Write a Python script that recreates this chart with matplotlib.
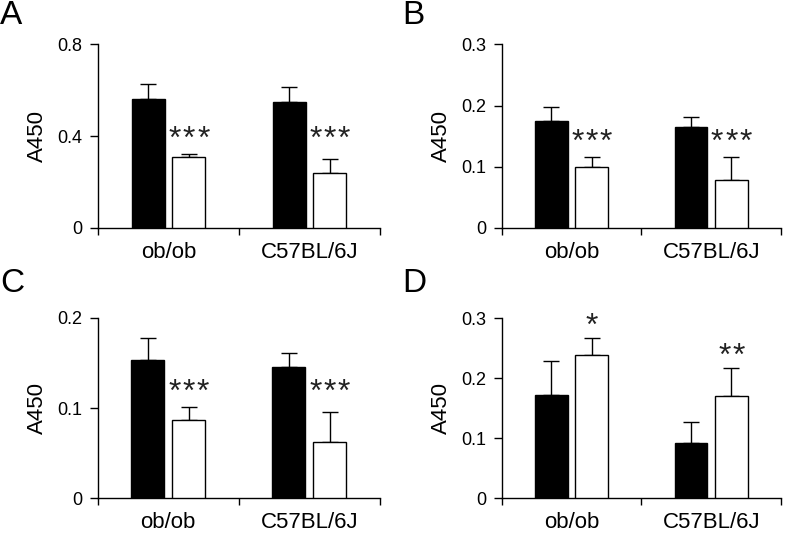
import matplotlib
matplotlib.use("Agg")
import matplotlib.pyplot as plt
import numpy as np

plt.rcParams['font.family'] = ['Liberation Sans', 'DejaVu Sans']

groups = ['ob/ob', 'C57BL/6J']

A_black = [0.561, 0.548]
A_black_err = [0.065, 0.065]
A_white = [0.310, 0.237]
A_white_err = [0.013, 0.063]
A_sig = ['***', '***']
A_ticks = [0, 0.4, 0.8]
A_ticklabels = ['0', '0.4', '0.8']

B_black = [0.174, 0.165]
B_black_err = [0.024, 0.016]
B_white = [0.099, 0.078]
B_white_err = [0.016, 0.038]
B_sig = ['***', '***']
B_ticks = [0, 0.1, 0.2, 0.3]
B_ticklabels = ['0', '0.1', '0.2', '0.3']

C_black = [0.153, 0.145]
C_black_err = [0.025, 0.016]
C_white = [0.087, 0.063]
C_white_err = [0.014, 0.033]
C_sig = ['***', '***']
C_ticks = [0, 0.1, 0.2]
C_ticklabels = ['0', '0.1', '0.2']

D_black = [0.172, 0.093]
D_black_err = [0.057, 0.035]
D_white = [0.239, 0.171]
D_white_err = [0.028, 0.046]
D_sig = ['*', '**']
D_ticks = [0, 0.1, 0.2, 0.3]
D_ticklabels = ['0', '0.1', '0.2', '0.3']

panels = [
    ('A', A_black, A_black_err, A_white, A_white_err, A_sig, A_ticks, A_ticklabels, True),
    ('B', B_black, B_black_err, B_white, B_white_err, B_sig, B_ticks, B_ticklabels, True),
    ('C', C_black, C_black_err, C_white, C_white_err, C_sig, C_ticks, C_ticklabels, True),
    ('D', D_black, D_black_err, D_white, D_white_err, D_sig, D_ticks, D_ticklabels, False),
]

fig = plt.figure(figsize=(7.87, 5.36), dpi=100)
rects = [
    [0.1245, 0.5752, 0.3583, 0.3418],
    [0.6375, 0.5752, 0.3549, 0.3418],
    [0.1241, 0.0700, 0.3587, 0.3373],
    [0.6375, 0.0700, 0.3549, 0.3362],
]
letter_pos = [(0.0, 1.0), (0.511, 1.0), (0.0, 0.5), (0.511, 0.5)]

off = 0.145
w = 0.234
lw = 1.0
star_step = 10.3  # points between asterisks
for (letter, blk, blk_e, wht, wht_e, sig, ticks, tlabels, align), rect, lp in zip(panels, rects, letter_pos):
    ax = fig.add_axes(rect)
    x = np.arange(len(groups)) + 0.5
    ax.bar(x - off, blk, w, color='black', edgecolor='black', linewidth=lw, zorder=3)
    ax.bar(x + off, wht, w, color='white', edgecolor='black', linewidth=lw, zorder=3)
    ax.errorbar(x - off, blk, yerr=[np.zeros(len(blk)), blk_e], fmt='none',
                ecolor='black', elinewidth=lw, capsize=5.5, capthick=lw, zorder=2)
    ax.errorbar(x + off, wht, yerr=[np.zeros(len(wht)), wht_e], fmt='none',
                ecolor='black', elinewidth=lw, capsize=5.5, capthick=lw, zorder=2)
    ymax = ticks[-1]
    tops = np.array(wht) + np.array(wht_e)
    if align:
        ys = np.full(len(tops), tops.max() + 0.085 * ymax)
    else:
        ys = tops + 0.07 * ymax
    for xi, yi, s in zip(x + off, ys, sig):
        n = len(s)
        for k in range(n):
            dx = (k - (n - 1) / 2) * star_step
            ax.annotate('*', xy=(xi, yi), xytext=(dx, -1), textcoords='offset points',
                        ha='center', va='center', fontsize=23, color='#222222')
    ax.set_xlim(0, 2)
    ax.set_ylim(0, ymax)
    ax.set_yticks(ticks)
    ax.set_yticklabels(tlabels)
    ax.set_xticks([0, 1, 2])
    ax.set_xticklabels([])
    ax.set_xticks(x, minor=True)
    ax.set_xticklabels(groups, minor=True)
    ax.tick_params(axis='x', which='minor', length=0, pad=10, labelsize=16)
    ax.tick_params(axis='x', which='major', direction='out', length=5, width=lw)
    ax.tick_params(axis='y', direction='out', length=6, width=lw, labelsize=13, pad=5)
    for s in ['top', 'right']:
        ax.spines[s].set_visible(False)
    for s in ['left', 'bottom']:
        ax.spines[s].set_linewidth(lw)
    ax.set_ylabel('A450', fontsize=16, labelpad=7)
    fig.text(lp[0], lp[1], letter, fontsize=24, ha='left', va='top')

fig.savefig('out.png', dpi=100)
